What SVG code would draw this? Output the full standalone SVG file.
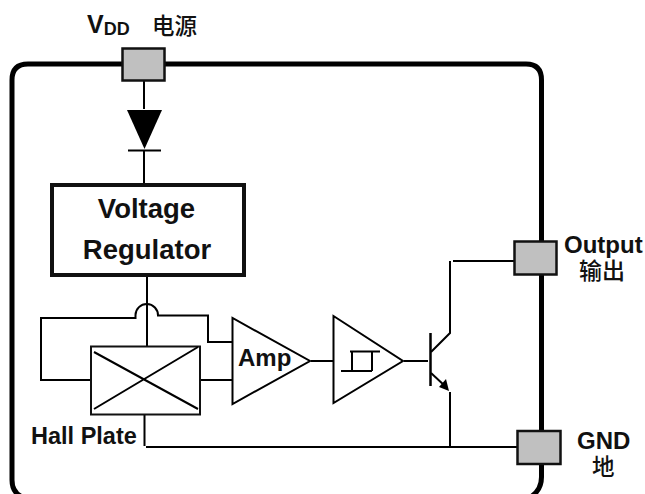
<svg xmlns="http://www.w3.org/2000/svg" width="645" height="494" viewBox="0 0 645 494">
<style>
.l{fill:none;stroke:#000;stroke-width:2}
.pad{fill:#c0c0c0;stroke:#111;stroke-width:2.5}
.t{font-family:"Liberation Sans",Arial,sans-serif;font-weight:700;fill:#111}
.c{font-family:"Noto Sans CJK SC",sans-serif;font-weight:500;fill:#111}
</style>
<rect width="645" height="494" fill="#fff"/>
<path id="frame" d="M25 498Q12 494 12 480V80Q12 64 28 64H526Q541.500 64 541.500 80V477Q541.500 491 529 498" fill="none" stroke="#000" stroke-width="5"/>
<g id="connectors">
<path class="l" d="M144 81V109M144 150V184M147 276V346"/>
<path class="l" d="M91 380H41V318H135.500V315A11 11 0 0 1 158 315.500H208V342H232"/>
<path class="l" d="M201 380H232M311 361H333M404 361H428"/>
<path class="l" d="M144.500 415V446M146 447H518M450 392V447"/>
<path class="l" d="M431 352L450 333V261M453 261H515"/>
<path class="l" d="M431 373L445 386"/>
<polygon points="449,391 439,387 446,379" fill="#000"/>
</g>
<g id="vdd"><rect class="pad" x="122.500" y="48.500" width="42" height="32"/>
<text class="t" x="87" y="33" font-size="25">V<tspan font-size="18" dy="2">DD</tspan></text>
<text class="c" x="152" y="34" font-size="22.500">电源</text></g>
<g id="diode"><polygon points="127,110 162,110 144.500,149" fill="#000"/><path class="l" d="M128 150.500H161"/></g>
<g id="regulator"><rect x="52" y="185" width="192" height="90" fill="#fff" stroke="#111" stroke-width="4"/>
<text class="t" x="146.500" y="218" font-size="27.500" text-anchor="middle">Voltage</text>
<text class="t" x="147" y="259" font-size="27.500" text-anchor="middle">Regulator</text></g>
<g id="hall"><rect x="91" y="346.500" width="109" height="68" fill="#fff" stroke="#111" stroke-width="2"/>
<path class="l" d="M94 352L198 409M198 347L94 409"/>
<text class="t" x="31" y="444" font-size="23.500">Hall Plate</text></g>
<g id="amp"><polygon class="l" points="232.500,318 232.500,404 310,361"/>
<text class="t" x="238" y="366" font-size="24">Amp</text></g>
<g id="schmitt"><polygon class="l" points="333.500,316 333.500,403 403,361"/>
<path class="l" d="M350 351.500H380M352 352V371M372 352V371M341 371H372"/></g>
<g id="transistor"><path d="M430.500 333V386" fill="none" stroke="#000" stroke-width="2.500"/></g>
<g id="output"><rect class="pad" x="514.500" y="241.500" width="42" height="33"/>
<text class="t" x="564" y="253" font-size="24">Output</text>
<text class="c" x="579" y="279" font-size="23">输出</text></g>
<g id="gnd"><rect class="pad" x="517.500" y="431" width="43" height="33"/>
<text class="t" x="577" y="449" font-size="24">GND</text>
<text class="c" x="592" y="475" font-size="22.500">地</text></g>
</svg>
